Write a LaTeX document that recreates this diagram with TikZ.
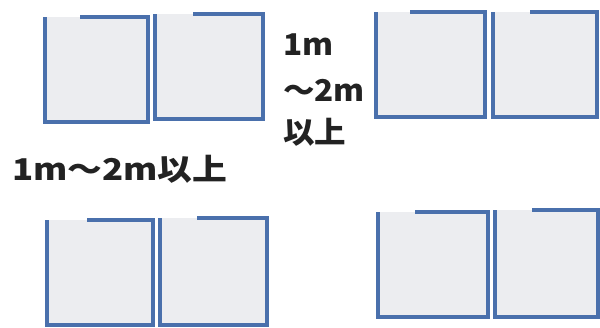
\documentclass[tikz,border=0pt]{standalone}
\usepackage{fontspec}
\newfontfamily\jpfont{Noto Sans CJK JP}
\usepackage{tikz}
\definecolor{seatblue}{RGB}{74,112,172}
\definecolor{seatfill}{RGB}{236,237,240}
\definecolor{labelgray}{RGB}{34,34,34}
\tikzset{
  seatline/.style={draw=seatblue, line width=3.6pt, line join=miter},
  dist/.style={inner sep=0pt, text=labelgray, font=\jpfont\bfseries\fontsize{30}{36}\selectfont, transform shape}
}

\begin{document}
\begin{tikzpicture}[x=1pt, y=1pt]
  \useasboundingbox (0,0) rectangle (600,327);
  % seats: left, right, top, bottom, end of the opening in the top edge
  \foreach \l/\r/\t/\b/\g in {45/148/310/205/80, 155/263/313/208/193,
                              376/485/315/210/410, 493/597/315/210/530,
                              47/153/107/2/87, 160/267/109/2/197,
                              378/488/115/10/415, 495/598/117/10/532}
  {
    \fill[seatfill] (\l,\b) rectangle (\r,\t);
    \draw[seatline] (\g,\t) -- (\r,\t) -- (\r,\b) -- (\l,\b) -- (\l,\t);
  }
  % distances
  \node[dist, anchor=base west, xscale=1.05] (upper1) at (283,271) {1m};
  \node[dist, anchor=base west, xscale=1.05] (upper2) at (283,225) {～2m};
  \node[dist, anchor=base west, xscale=1.05] (upper3) at (283,183) {以上};
  \node[dist, anchor=base west, xscale=1.16] (side) at (12,146) {1m～2m以上};
\end{tikzpicture}
\end{document}
